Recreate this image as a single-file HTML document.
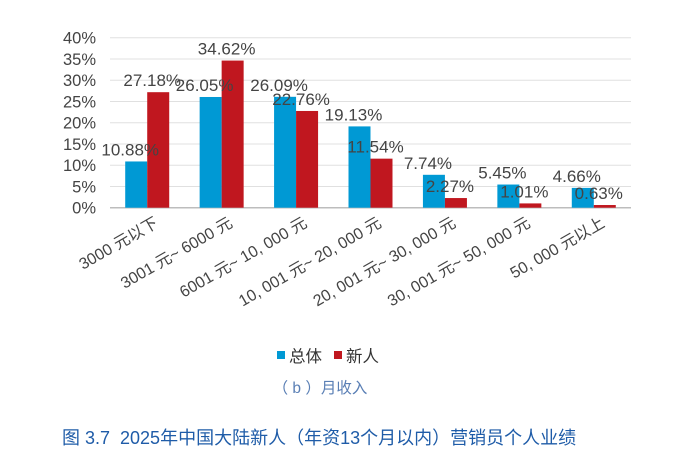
<!DOCTYPE html>
<html><head><meta charset="utf-8"><style>
body{margin:0;background:#fff;width:681px;height:465px;overflow:hidden;font-family:"Liberation Sans","Noto Sans CJK SC",sans-serif}
svg text{font-family:"Liberation Sans","Noto Sans CJK SC",sans-serif}
</style></head><body>
<svg id="c" width="681" height="465"></svg>
<script>
const categories=["3000 元以下","3001 元~ 6000 元","6001 元~ 10, 000 元","10, 001 元~ 20, 000 元","20, 001 元~ 30, 000 元","30, 001 元~ 50, 000 元","50, 000 元以上"];
const totalValues=[10.88,26.05,26.09,19.13,7.74,5.45,4.66];
const newValues=[27.18,34.62,22.76,11.54,2.27,1.01,0.63];
const yTicks=[0,5,10,15,20,25,30,35,40];
const NS="http://www.w3.org/2000/svg";
const svg=document.getElementById('c');
const L=110,R=631,T=37.7,B=207.7,yMax=40;
const bw=(R-L)/categories.length, barW=22;
const y=v=>B-(v/yMax)*(B-T);
const cx=i=>L+bw*(i+0.5);
function mk(tag,attrs,txt){const e=document.createElementNS(NS,tag);for(const k in attrs)e.setAttribute(k,attrs[k]);if(txt!==undefined)e.textContent=txt;svg.appendChild(e);return e;}
yTicks.forEach(t=>{
 const g=mk('line',{x1:L,x2:R,y1:y(t),y2:y(t),stroke:t===0?'#bdbdbd':'#e0e0e0','stroke-width':t===0?1.5:1});
 
 
 const tl=mk('text',{x:96,y:y(t)+6,'text-anchor':'end','font-size':16.5,fill:'#444'},t+'%');
 
 
});
categories.forEach((c,i)=>{
 const b1=mk('rect',{x:cx(i)-barW,y:y(totalValues[i]),width:barW,height:B-y(totalValues[i]),fill:'#0099d4'});
 
 
 const b2=mk('rect',{x:cx(i),y:y(newValues[i]),width:barW,height:B-y(newValues[i]),fill:'#c0171f'});
 
 
 const l1=mk('text',{x:cx(i)-barW/2-6,y:y(totalValues[i])-6,'text-anchor':'middle','font-size':17,fill:'#444'},totalValues[i].toFixed(2)+'%');
 
 
 const l2=mk('text',{x:cx(i)+barW/2-6,y:y(newValues[i])-6,'text-anchor':'middle','font-size':17,fill:'#444'},newValues[i].toFixed(2)+'%');
 
 
 const xl=mk('text',{x:cx(i)+12,y:226,'text-anchor':'end','font-size':16,fill:'#444',transform:`rotate(-30 ${cx(i)+12} 226)`},c);
 
 
});
</script>
<div style="position:absolute;left:277px;top:343px;font-size:16.5px;color:#333;display:flex;align-items:center">
<span style="width:8px;height:8px;background:#0099d4;margin-right:4px"></span><span>总体</span>
<span style="width:8px;height:8px;background:#c0171f;margin:0 4px 0 12px"></span><span>新人</span>
</div>
<div style="position:absolute;left:0;width:640px;text-align:center;top:376px;font-size:15.5px;color:#5a7fb5">（ b ）月收入</div>
<div style="position:absolute;left:62px;width:520px;top:424px;font-size:18px;color:#1f5ca8;white-space:nowrap">图 3.7&nbsp; 2025年中国大陆新人（年资13个月以内）营销员个人业绩</div>
</body></html>
